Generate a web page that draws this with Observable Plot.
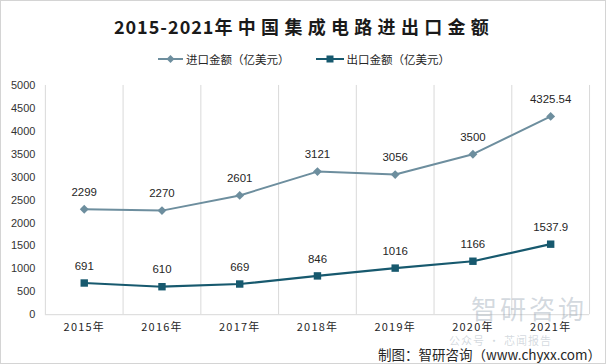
<!DOCTYPE html>
<html>
<head>
<meta charset="utf-8">
<script src="https://cdn.jsdelivr.net/npm/d3@7"></script>
<script src="https://cdn.jsdelivr.net/npm/@observablehq/plot@0.6"></script>
<style>
  html, body { margin: 0; padding: 0; background: #fff; }
  #wrap { position: relative; width: 606px; height: 364px; box-sizing: border-box; border: 1px solid #d4d4d4; overflow: hidden; background: #fff; font-family: "Noto Sans CJK SC", sans-serif; }
  #title { position: absolute; left: 0; top: 0; width: 606px; height: 44px; display: flex; align-items: center; justify-content: center; padding-top: 5px; box-sizing: border-box; font-size: 18px; font-weight: bold; color: #1a1a1a; white-space: nowrap; }
  #title .num { letter-spacing: 1px; }
  #title .cjk { letter-spacing: 5.3px; }
  #legend { position: absolute; left: 0; top: 44px; width: 606px; height: 28px; display: flex; align-items: center; justify-content: center; font-size: 11.5px; color: #262626; }
  .item { display: flex; align-items: center; }
  .item + .item { margin-left: 26px; }
  .item svg { margin-right: 3px; }
  #chart { position: absolute; left: 0; top: 72px; }
  #caption { position: absolute; right: 4px; top: 342px; height: 22px; line-height: 22px; font-size: 13.5px; color: #262626; white-space: nowrap; }
  .wm { position: absolute; color: rgba(140,155,170,0.38); white-space: nowrap; pointer-events: none; line-height: 1; }
  #chart svg g[aria-label="x-axis tick label"] text { letter-spacing: 1.2px; }
</style>
</head>
<body>
<div id="wrap">
  <div id="title"></div>
  <div id="legend"></div>
  <div id="chart"></div>
  <div class="wm" style="left:470px; top:294px; font-size:26px; letter-spacing:3px;">智研咨询</div>
  <div class="wm" style="left:448px; top:334px; font-size:11px; letter-spacing:1px;">公众号 · 芯闻报告</div>
  <div id="caption"></div>
</div>
<script>
const titleNum = "2015-2021";
const titleCjk = "年中国集成电路进出口金额";
const captionText = "制图：智研咨询（www.chyxx.com）";
const seriesNames = ["进口金额（亿美元）", "出口金额（亿美元）"];
const seriesColors = ["#6d8e9e", "#17596e"];
const seriesSymbols = ["diamond2", "square"];
const years = [2015, 2016, 2017, 2018, 2019, 2020, 2021];
const importValues = [2299, 2270, 2601, 3121, 3056, 3500, 4325.54];
const exportValues = [691, 610, 669, 846, 1016, 1166, 1537.9];
const yTicks = [0, 500, 1000, 1500, 2000, 2500, 3000, 3500, 4000, 4500, 5000];

document.getElementById("title").innerHTML =
  `<span class="num">${titleNum}</span><span class="cjk">${titleCjk}</span>`;
document.getElementById("caption").textContent = captionText;

// legend
const legend = document.getElementById("legend");
seriesNames.forEach((name, i) => {
  const item = document.createElement("div");
  item.className = "item";
  const w = i === 0 ? 25 : 28;
  const marker = seriesSymbols[i] === "square"
    ? `<rect x="${w/2-3.5}" y="1.5" width="7" height="7" fill="${seriesColors[i]}"/>`
    : `<path d="M${w/2},1 L${w/2+4},5 L${w/2},9 L${w/2-4},5Z" fill="${seriesColors[i]}"/>`;
  item.innerHTML = `<svg width="${w}" height="10"><line x1="0" x2="${w}" y1="5" y2="5" stroke="${seriesColors[i]}" stroke-width="2"/>${marker}</svg><span>${name}</span>`;
  legend.appendChild(item);
});

const data = [];
years.forEach((y, i) => {
  data.push({year: y, value: importValues[i], series: seriesNames[0]});
});
years.forEach((y, i) => {
  data.push({year: y, value: exportValues[i], series: seriesNames[1]});
});
const imp = data.filter(d => d.series === seriesNames[0]);
const exp = data.filter(d => d.series === seriesNames[1]);
const bounds = years.map(y => y - 0.5).concat([years[years.length - 1] + 0.5]);

const chart = Plot.plot({
  width: 606,
  height: 270,
  marginTop: 12,
  marginBottom: 28,
  marginLeft: 44,
  marginRight: 16,
  style: {fontFamily: "'Noto Sans CJK SC', sans-serif", fontSize: "11px", color: "#404040", background: "transparent"},
  x: {domain: [bounds[0], bounds[bounds.length - 1]]},
  y: {domain: [0, 5000]},
  marks: [
    Plot.ruleX(bounds, {stroke: "#d9d9d9", strokeWidth: 1}),
    Plot.ruleY([0], {stroke: "#d9d9d9", strokeWidth: 1}),
    Plot.axisX({ticks: years, tickFormat: d => d + "年", tickSize: 0, tickPadding: 9, label: null, fill: "#262626"}),
    Plot.axisY({ticks: yTicks, tickFormat: d => String(d), tickSize: 0, tickPadding: 10, label: null, fill: "#333", fontFamily: "'Liberation Sans', sans-serif"}),
    Plot.line(imp, {x: "year", y: "value", stroke: seriesColors[0], strokeWidth: 2}),
    Plot.line(exp, {x: "year", y: "value", stroke: seriesColors[1], strokeWidth: 2.2}),
    Plot.dot(imp, {x: "year", y: "value", symbol: seriesSymbols[0], r: 4, fill: seriesColors[0]}),
    Plot.dot(exp, {x: "year", y: "value", symbol: seriesSymbols[1], r: 4.2, fill: seriesColors[1]}),
    Plot.text(data, {x: "year", y: "value", text: d => String(d.value), dy: -17, fontSize: 11.5, fill: "#262626", fontFamily: "'Liberation Sans', sans-serif"})
  ]
});
document.getElementById("chart").appendChild(chart);
</script>
</body>
</html>
